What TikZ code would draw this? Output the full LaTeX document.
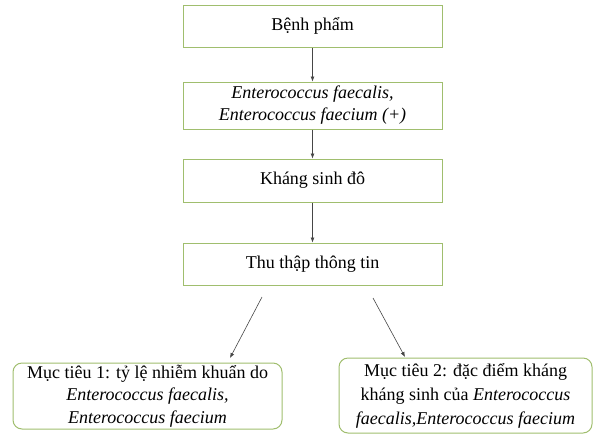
\documentclass[tikz,border=0pt]{standalone}
\usepackage{fontspec}
\setmainfont{Liberation Serif}
\usetikzlibrary{arrows.meta}
\definecolor{boxgreen}{RGB}{160,190,110}
\definecolor{linegray}{RGB}{70,70,70}
\begin{document}
\begin{tikzpicture}[x=1pt,y=1pt,
  flowbox/.style={draw=boxgreen, line width=1pt, fill=white, align=center,
    inner sep=0pt, font=\fontsize{18}{22}\selectfont},
  goalbox/.style={flowbox, rounded corners=9pt, font=\fontsize{18}{22.5}\selectfont},
  conn/.style={draw=linegray, line width=0.6pt, -{Latex[length=5pt,width=4pt]}}]
\useasboundingbox (0,0) rectangle (593,-434);
\node[flowbox, minimum width=259pt, minimum height=42pt] (b1) at (312.5,-26) {Bệnh phẩm};
\node[flowbox, minimum width=259pt, minimum height=47pt] (b2) at (312.5,-105.5)
  {\textit{Enterococcus faecalis,}\\\textit{Enterococcus faecium (+)}};
\node[flowbox, minimum width=259pt, minimum height=43pt] (b3) at (312.5,-180.5) {Kháng sinh đô};
\node[flowbox, minimum width=259pt, minimum height=42pt] (b4) at (312.5,-264) {Thu thập thông tin};
\node[goalbox, minimum width=269pt, minimum height=66pt] (g1) at (147.5,-396)
  {Mục tiêu 1: tỷ lệ nhiễm khuẩn do\\\textit{Enterococcus faecalis,}\\\textit{Enterococcus faecium}};
\node[goalbox, minimum width=253pt, minimum height=75pt, font=\fontsize{18}{24}\selectfont] (g2) at (465.5,-395.5)
  {Mục tiêu 2: đặc điểm kháng\\kháng sinh của \textit{Enterococcus}\\\textit{faecalis,Enterococcus faecium}};
\coordinate (s1) at (262,-297);
\coordinate (e1) at (230,-358);
\coordinate (s2) at (373,-298);
\coordinate (e2) at (405,-357);
\draw[conn] (b1.south) -- (b2.north);
\draw[conn] (b2.south) -- (b3.north);
\draw[conn] (b3.south) -- (b4.north);
\draw[conn] (s1) -- (e1);
\draw[conn] (s2) -- (e2);
\end{tikzpicture}
\end{document}
